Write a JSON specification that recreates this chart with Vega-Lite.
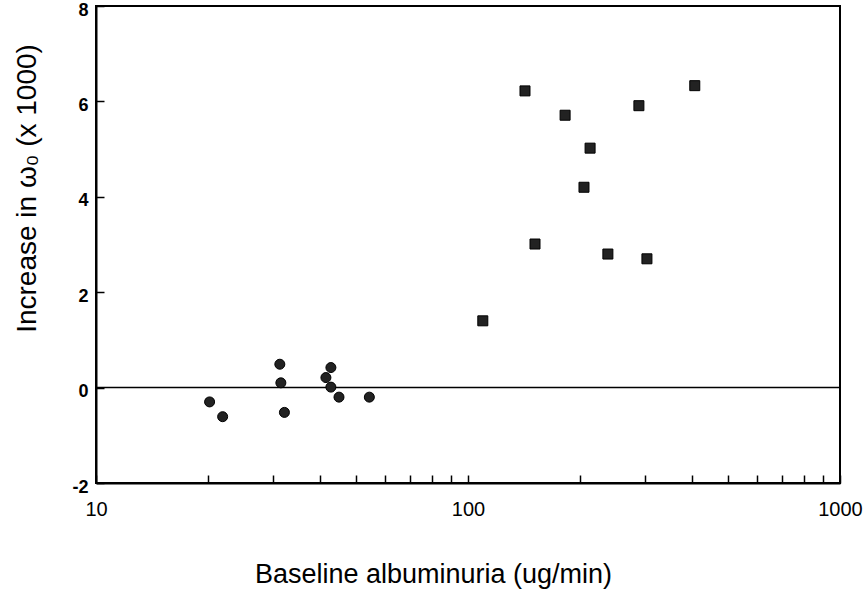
{
  "$schema": "https://vega.github.io/schema/vega-lite/v6.json",
  "width": 744,
  "height": 477,
  "autosize": {"type": "none"},
  "padding": {"left": 96, "top": 6, "right": 26, "bottom": 112},
  "background": "white",
  "config": {
    "view": {"stroke": "black", "strokeWidth": 2},
    "font": "Liberation Sans",
    "axis": {"grid": false, "domainColor": "black", "domainWidth": 2, "tickColor": "black", "labelColor": "black", "titleColor": "black"}
  },
  "datasets": {
    "pts": [
      {"alb": 20.2, "inc": -0.30, "grp": "normo"},
      {"alb": 21.9, "inc": -0.61, "grp": "normo"},
      {"alb": 31.2, "inc": 0.49, "grp": "normo"},
      {"alb": 31.4, "inc": 0.10, "grp": "normo"},
      {"alb": 32.1, "inc": -0.52, "grp": "normo"},
      {"alb": 42.8, "inc": 0.42, "grp": "normo"},
      {"alb": 41.5, "inc": 0.21, "grp": "normo"},
      {"alb": 42.8, "inc": 0.01, "grp": "normo"},
      {"alb": 45.0, "inc": -0.20, "grp": "normo"},
      {"alb": 54.3, "inc": -0.20, "grp": "normo"},
      {"alb": 142.3, "inc": 6.22, "grp": "micro"},
      {"alb": 407, "inc": 6.33, "grp": "micro"},
      {"alb": 288, "inc": 5.91, "grp": "micro"},
      {"alb": 182.4, "inc": 5.71, "grp": "micro"},
      {"alb": 212.9, "inc": 5.02, "grp": "micro"},
      {"alb": 205, "inc": 4.20, "grp": "micro"},
      {"alb": 151.4, "inc": 3.01, "grp": "micro"},
      {"alb": 237.7, "inc": 2.80, "grp": "micro"},
      {"alb": 302.7, "inc": 2.70, "grp": "micro"},
      {"alb": 109.6, "inc": 1.40, "grp": "micro"}
    ],
    "zero": [{"y": 0}]
  },
  "layer": [
    {
      "data": {"name": "zero"},
      "mark": {"type": "rule", "color": "black", "strokeWidth": 1.5},
      "encoding": {"y": {"field": "y", "type": "quantitative", "scale": {"domain": [-2, 8]}}}
    },
    {
      "data": {"name": "pts"},
      "mark": {"type": "point", "filled": true, "opacity": 1, "color": "#222", "stroke": "black", "strokeWidth": 1},
      "encoding": {
        "x": {
          "field": "alb", "type": "quantitative",
          "scale": {"type": "log", "domain": [10, 1000], "nice": false},
          "axis": {
            "title": "Baseline albuminuria (ug/min)",
            "values": [10, 20, 30, 40, 50, 60, 70, 80, 90, 100, 200, 300, 400, 500, 600, 700, 800, 900, 1000],
            "labelExpr": "(datum.value == 10 || datum.value == 100 || datum.value == 1000) ? datum.value : ''",
            "tickSize": -8,
            "tickWidth": 1.5,
            "labelFontSize": 20,
            "labelPadding": 24,
            "labelFontWeight": "normal",
            "labelFlush": false,
            "labelOverlap": false,
            "titleFontSize": 27,
            "titleFontWeight": "normal",
            "titleX": 337,
            "titleY": 91,
            "titleBaseline": "middle"
          }
        },
        "y": {
          "field": "inc", "type": "quantitative",
          "scale": {"domain": [-2, 8], "nice": false},
          "axis": {
            "title": "Increase in ω₀ (x 1000)",
            "values": [-2, 0, 2, 4, 6, 8],
            "labelExpr": "replace(format(datum.value, 'd'), '−', '-')",
            "tickSize": -8,
            "tickWidth": 1.5,
            "labelFontSize": 18,
            "labelFontWeight": "bold",
            "labelPadding": 16,
            "labelOffset": 4,
            "labelFlush": false,
            "titleFontSize": 28,
            "titleFontWeight": "normal",
            "titleX": -69,
            "titleY": 182,
            "titleAngle": -90,
            "titleBaseline": "middle"
          }
        },
        "shape": {
          "field": "grp", "type": "nominal",
          "scale": {"domain": ["normo", "micro"], "range": ["circle", "square"]},
          "legend": null
        },
        "size": {"value": 100}
      }
    }
  ]
}
